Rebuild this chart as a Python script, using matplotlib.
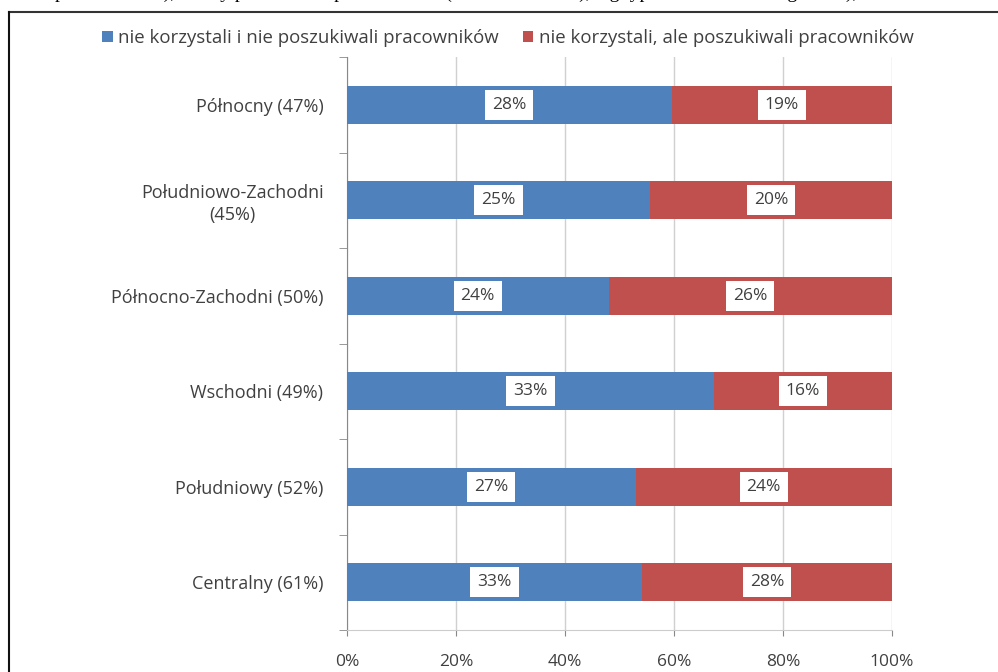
import matplotlib
matplotlib.use("Agg")
import matplotlib.pyplot as plt
from matplotlib.lines import Line2D
import numpy as np

categories = ["Północny (47%)", "Południowo-Zachodni\n(45%)", "Północno-Zachodni (50%)",
              "Wschodni (49%)", "Południowy (52%)", "Centralny (61%)"]
series_names = ["nie korzystali i nie poszukiwali pracowników",
                "nie korzystali, ale poszukiwali pracowników"]
s1 = [28, 25, 24, 33, 27, 33]
s2 = [19, 20, 26, 16, 24, 28]
xticklabels = ["0%", "20%", "40%", "60%", "80%", "100%"]

colors = ["#4F81BD", "#C0504D"]
textcol = "#404040"
plt.rcParams['font.family'] = ['Open Sans', 'DejaVu Sans']

W, H = 998, 672
fig = plt.figure(figsize=(W/100, H/100), dpi=100)

# frame lines
fig.add_artist(Line2D([9/W, 1], [1-12/H, 1-12/H], color="#333333", lw=1.5))
fig.add_artist(Line2D([9/W, 9/W], [0, 1-12/H], color="#111111", lw=1.5))

# cut-off caption line above the frame (only the lower part is visible)
fig.text(55/W, 1+2/H, "pracodawców), którzy poszukiwali pracowników (w ostatnim roku), wg typu działalności i regionów),",
         family="Liberation Serif", fontsize=14, va="baseline", ha="left", color="black")

left, right = 347/W, 892/W
bottom, top = 1-630/H, 1-57/H
ax = fig.add_axes([left, bottom, right-left, top-bottom])

a = np.array(s1, float)
b = np.array(s2, float)
tot = a + b
fa = a / tot
fb = b / tot
y = np.arange(len(categories))
h = 0.4
ax.barh(y, fa, height=h, color=colors[0], label=series_names[0], zorder=3)
ax.barh(y, fb, left=fa, height=h, color=colors[1], label=series_names[1], zorder=3)

bbox = dict(boxstyle="square,pad=0.4", fc="white", ec="none")
for i in range(len(categories)):
    ax.text(fa[i]/2, y[i], f"{s1[i]}%", ha="center", va="center", fontsize=12.5,
            color=textcol, bbox=bbox, zorder=4)
    ax.text(fa[i] + fb[i]/2, y[i], f"{s2[i]}%", ha="center", va="center", fontsize=12.5,
            color=textcol, bbox=bbox, zorder=4)

ax.set_xlim(0, 1)
ax.set_ylim(len(categories)-0.5, -0.5)
ax.set_xticks(np.linspace(0, 1, 6))
ax.set_xticklabels(xticklabels, fontsize=12.5, color=textcol)
ax.set_yticks(y)
ax.set_yticklabels(categories, fontsize=13, color=textcol, linespacing=1.25,
                   multialignment="center")
ax.set_yticks(np.arange(-0.5, len(categories), 1), minor=True)
ax.tick_params(axis="y", which="major", length=0, pad=17)
ax.tick_params(axis="y", which="minor", length=6, color="#888888")
ax.tick_params(axis="x", which="major", length=4, color="#888888", pad=13)
ax.grid(axis="x", color="#D0D0D0", lw=1, zorder=0)
for s in ["top", "right"]:
    ax.spines[s].set_visible(False)
ax.spines["left"].set_color("#888888")
ax.spines["bottom"].set_color("#CCCCCC")

fig.legend(loc="center", bbox_to_anchor=(508/W, 1-38/H), ncol=2, frameon=False,
           fontsize=13.4, handlelength=0.55, handleheight=0.55, handletextpad=0.3,
           columnspacing=1.3, labelcolor=textcol)

fig.savefig("out.png", dpi=100)
